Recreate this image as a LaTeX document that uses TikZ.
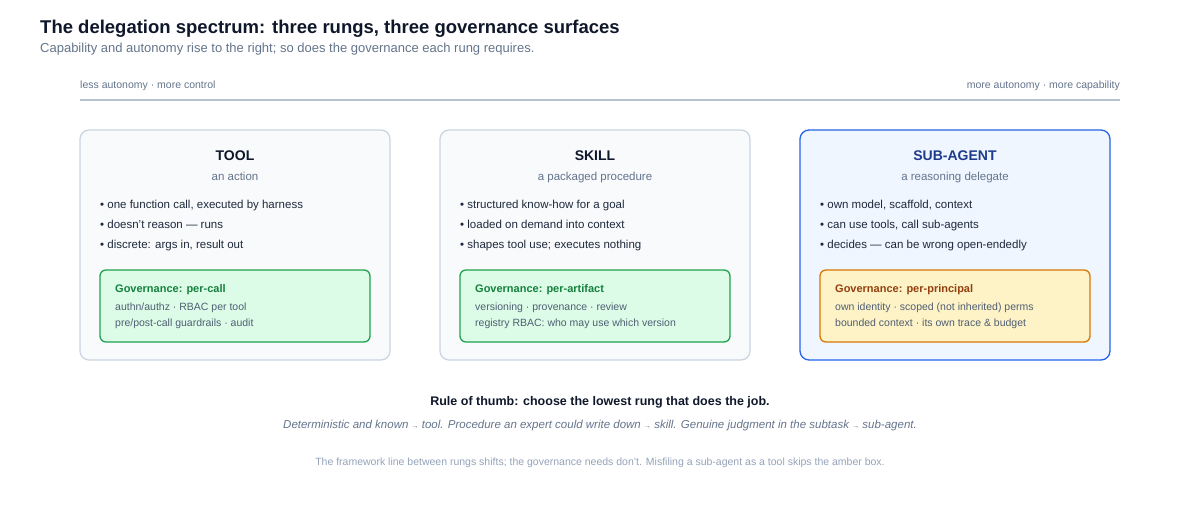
\documentclass[tikz,border=0pt]{standalone}
\usepackage{fontspec}
\setmainfont{Liberation Sans}
\begin{document}
\definecolor{ink}{HTML}{0F172A}
\definecolor{body}{HTML}{1E293B}
\definecolor{muted}{HTML}{64748B}
\definecolor{faint}{HTML}{94A3B8}
\definecolor{cardb}{HTML}{CBD5E1}
\definecolor{cardf}{HTML}{F8FAFC}
\definecolor{blueb}{HTML}{2563EB}
\definecolor{bluef}{HTML}{EFF6FF}
\definecolor{bluet}{HTML}{1E3A8A}
\definecolor{greenb}{HTML}{22A150}
\definecolor{greenf}{HTML}{DCFCE7}
\definecolor{greent}{HTML}{15803D}
\definecolor{amberb}{HTML}{D97706}
\definecolor{amberf}{HTML}{FEF3C7}
\definecolor{ambert}{HTML}{92400E}
\begin{tikzpicture}[x=1pt,y=-1pt,
  card/.style={draw=cardb,fill=cardf,line width=1.3pt,rounded corners=9pt},
  gov/.style={line width=1.3pt,rounded corners=6pt},
  ctitle/.style={anchor=base,font=\fontsize{14}{16}\bfseries\selectfont,text=ink},
  csub/.style={anchor=base,font=\fontsize{11.5}{13}\selectfont,text=muted},
  bul/.style={anchor=base west,font=\fontsize{11.5}{13}\selectfont,text=body,inner xsep=0pt},
  gt/.style={anchor=base west,font=\fontsize{11}{13}\bfseries\selectfont,inner xsep=0pt},
  gl/.style={anchor=base west,font=\fontsize{10.5}{12}\selectfont,text=muted!70!body,inner xsep=0pt}]
\useasboundingbox (0,0) rectangle (1200,520);
\node[anchor=base west,inner sep=0pt,font=\fontsize{18.5}{22}\bfseries\selectfont,text=ink] (title) at (40,33) {The delegation spectrum: three rungs, three governance surfaces};
\node[anchor=base west,inner sep=0pt,font=\fontsize{13}{15}\selectfont,text=muted] (sub) at (40,52) {Capability and autonomy rise to the right; so does the governance each rung requires.};
\node[anchor=base west,inner sep=0pt,font=\fontsize{10.5}{12}\selectfont,text=muted] (la) at (80,88) {less autonomy · more control};
\node[anchor=base east,inner sep=0pt,font=\fontsize{10.5}{12}\selectfont,text=muted] (ra) at (1120,88) {more autonomy · more capability};
\coordinate (a0) at (80,100); \coordinate (a1) at (1120,100);
\draw[cardb!80!muted,line width=1.5pt] (a0) -- (a1);

\foreach \x/\ti/\su/\ba/\bb/\bc/\gg/\ga/\gb/\kind in {
 80/TOOL/an action/{one function call, executed by harness}/doesn't reason — runs/{discrete: args in, result out}/Governance: per-call/authn\slash authz · RBAC per tool/pre\slash post-call guardrails · audit/0,
 440/SKILL/a packaged procedure/structured know-how for a goal/loaded on demand into context/shapes tool use; executes nothing/Governance: per-artifact/versioning · provenance · review/registry RBAC: who may use which version/1,
 800/SUB-AGENT/a reasoning delegate/{own model, scaffold, context}/{can use tools, call sub-agents}/decides — can be wrong open-endedly/Governance: per-principal/own identity · scoped (not inherited) perms/bounded context · its own trace \& budget/2}{
 \ifnum\kind=2
  \draw[card,draw=blueb,fill=bluef] (\x,130) rectangle ++(310,230);
  \node[ctitle,text=bluet] (t\kind) at (\x+155,160) {\ti};
  \draw[gov,draw=amberb,fill=amberf] (\x+20,270) rectangle ++(270,72);
  \node[gt,text=ambert] (g\kind) at (\x+35,292) {\gg};
 \else
  \draw[card] (\x,130) rectangle ++(310,230);
  \node[ctitle] (t\kind) at (\x+155,160) {\ti};
  \draw[gov,draw=greenb,fill=greenf] (\x+20,270) rectangle ++(270,72);
  \node[gt,text=greent] (g\kind) at (\x+35,292) {\gg};
 \fi
 \node[csub] (s\kind) at (\x+155,180) {\su};
 \node[bul] (b1\kind) at (\x+20,208) {• \ba};
 \node[bul] (b2\kind) at (\x+20,228) {• \bb};
 \node[bul] (b3\kind) at (\x+20,248) {• \bc};
 \node[gl] (ga\kind) at (\x+35,310) {\ga};
 \node[gl] (gb\kind) at (\x+35,326) {\gb};
}
\node[anchor=base,font=\fontsize{12.5}{15}\bfseries\selectfont,text=ink] (rule) at (600,405) {Rule of thumb: choose the lowest rung that does the job.};
\node[anchor=base,font=\fontsize{11.5}{14}\itshape\selectfont,text=muted] (rule2) at (600,428) {Deterministic and known {\scriptsize →} tool. Procedure an expert could write down {\scriptsize →} skill. Genuine judgment in the subtask {\scriptsize →} sub-agent.};
\node[anchor=base,font=\fontsize{10.5}{13}\selectfont,text=faint] (foot) at (600,465) {The framework line between rungs shifts; the governance needs don't. Misfiling a sub-agent as a tool skips the amber box.};
\end{tikzpicture}
\end{document}
